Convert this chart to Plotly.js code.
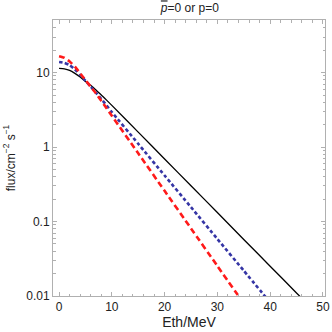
<!DOCTYPE html>
<html>
<head>
<meta charset="utf-8">
<script src="https://cdn.plot.ly/plotly-3.0.1.min.js"></script>
<style>html,body{margin:0;padding:0;background:#fff;}#chart{width:332px;height:332px;}</style>
</head>
<body>
<div id="chart"></div>
<script>
// Threshold energy (MeV)
const eth = [0, 1, 2, 3, 4, 5, 6, 7, 8, 9, 10, 15, 20, 25, 30, 35, 40, 45, 50];
// Flux values (cm^-2 s^-1)
const fluxBlack = [11.4, 11.2, 10.7, 9.77, 8.71, 7.59, 6.76, 5.82, 5.01, 4.27, 3.63, 1.585, 0.692, 0.302, 0.132, 0.0575, 0.0251, 0.011, 0.00479];
const ethRed = [0, 1, 2, 3, 4, 5, 6, 7, 8, 9, 10, 15, 20, 25, 30, 35];
const fluxRed = [16.6, 15.8, 14.1, 12.0, 9.77, 7.94, 6.46, 5.25, 4.17, 3.31, 2.63, 0.824, 0.258, 0.0809, 0.0253, 0.00794];
const ethBlue = [0, 1, 2, 3, 4, 5, 6, 7, 8, 9, 10, 15, 20, 25, 30, 35, 40];
const fluxBlue = [13.9, 13.5, 12.6, 11.0, 9.33, 7.76, 6.46, 5.37, 4.42, 3.63, 2.95, 1.107, 0.415, 0.156, 0.0583, 0.0219, 0.0082];

const xTicks = [0, 10, 20, 30, 40, 50];
const yTicks = [0.01, 0.1, 1, 10];
const yTickText = ['0.01', '0.1', '1', '10'];

const traces = [
  {x: eth, y: fluxBlack, mode: 'lines', line: {color: '#000000', width: 1.3, shape: 'spline', smoothing: 0.5}, hoverinfo: 'skip'},
  {x: ethBlue, y: fluxBlue, mode: 'lines', line: {color: '#3535a5', width: 2.6, dash: '3.5px,2.5px', shape: 'spline', smoothing: 0.5}, hoverinfo: 'skip'},
  {x: ethRed, y: fluxRed, mode: 'lines', line: {color: '#ff1a1a', width: 2.6, dash: '6px,3.5px', shape: 'spline', smoothing: 0.5}, hoverinfo: 'skip'}
];

const axisCommon = {
  showline: true, linecolor: '#b0b0b0', linewidth: 1, mirror: 'ticks',
  ticks: 'inside', ticklen: 4, tickcolor: '#b0b0b0', tickwidth: 1,
  showgrid: false, zeroline: false,
  tickfont: {family: 'Liberation Sans, Arial, sans-serif', size: 12, color: '#222'}
};

const layout = {
  width: 332, height: 332,
  margin: {l: 53, r: 7, t: 20, b: 36, pad: 0},
  paper_bgcolor: '#fff', plot_bgcolor: '#fff',
  showlegend: false,
  title: {text: '<span style="text-decoration:overline"><i>p</i></span>=0 or p=0', x: 0.572, xanchor: 'center', y: 0.988, yanchor: 'top',
          font: {family: 'Liberation Sans, Arial, sans-serif', size: 12, color: '#222'}},
  xaxis: Object.assign({}, axisCommon, {
    range: [-1.15, 50.4], tickvals: xTicks, ticktext: xTicks.map(String),
    minor: {dtick: 2, ticks: 'inside', ticklen: 2.5, tickcolor: '#b0b0b0', tickwidth: 1},
    title: {text: 'Eth/MeV', standoff: 3, font: {family: 'Liberation Sans, Arial, sans-serif', size: 14, color: '#222'}}
  }),
  yaxis: Object.assign({}, axisCommon, {
    type: 'log', range: [-2, 1.706], tickvals: yTicks, ticktext: yTickText,
    minor: {dtick: 'D1', ticks: 'inside', ticklen: 2.5, tickcolor: '#b0b0b0', tickwidth: 1},
    title: {text: 'flux/cm<sup>−2</sup> s<sup>−1</sup>', standoff: 8, font: {family: 'Liberation Sans, Arial, sans-serif', size: 12, color: '#222'}}
  })
};

Plotly.newPlot('chart', traces, layout, {staticPlot: true, displayModeBar: false});
</script>
</body>
</html>
